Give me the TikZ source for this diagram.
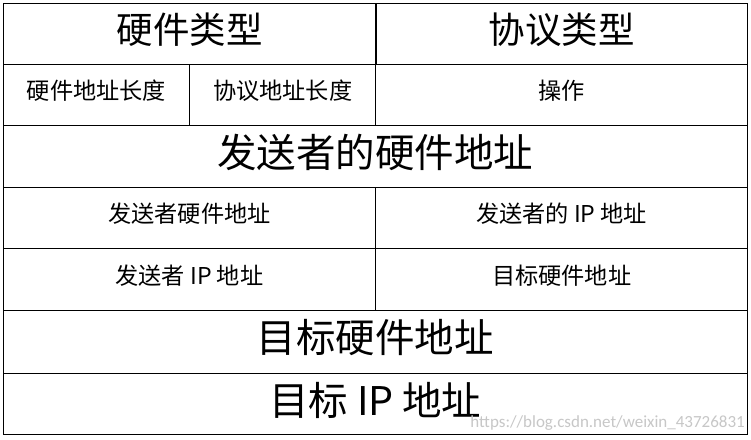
\documentclass[tikz,border=0pt]{standalone}
\usepackage{fontspec}
\setmainfont{Noto Sans CJK SC}
\newfontfamily\latinfont{Carlito}
\tikzset{
  cell/.style={draw=black, line width=1.2pt, anchor=north west, inner sep=0pt},
  txt/.style={inner sep=0pt, anchor=center},
  small/.style={txt, font=\fontsize{23.2}{23.2}\selectfont},
  mid/.style={txt, font=\fontsize{36.5}{36.5}\selectfont},
  big/.style={txt, font=\fontsize{39.5}{39.5}\selectfont},
  wm/.style={font=\latinfont\fontsize{17}{17}\selectfont, text=black!22, anchor=south east, inner sep=0pt}
}
\begin{document}
\begin{tikzpicture}[x=1pt,y=-1pt]
\useasboundingbox[fill=white] (0,0) rectangle (751,439);
% row 1
\node[cell, minimum width=373pt, minimum height=61pt] (ht) at (2.7,2.7) {};
\node[cell, minimum width=372pt, minimum height=61pt] (pt) at (375,2.7) {};
% row 2
\node[cell, minimum width=186.3pt, minimum height=61pt] (hal) at (2.7,63.7) {};
\node[cell, minimum width=186pt, minimum height=61pt] (pal) at (189,63.7) {};
\node[cell, minimum width=372pt, minimum height=61pt] (op) at (375,63.7) {};
% row 3
\node[cell, minimum width=744pt, minimum height=62pt] (sha) at (2.7,124.7) {};
% row 4
\node[cell, minimum width=372.3pt, minimum height=61pt] (sha2) at (2.7,186.7) {};
\node[cell, minimum width=372pt, minimum height=61pt] (spa) at (375,186.7) {};
% row 5
\node[cell, minimum width=372.3pt, minimum height=62pt] (spa2) at (2.7,247.7) {};
\node[cell, minimum width=372pt, minimum height=62pt] (tha) at (375,247.7) {};
% row 6
\node[cell, minimum width=744pt, minimum height=63pt] (tha2) at (2.7,309.7) {};
% row 7
\node[cell, minimum width=744pt, minimum height=61.5pt] (tpa) at (2.7,372.7) {};
% texts
\node[mid] (ht-t) at ([yshift=4pt]ht.center) {硬件类型};
\node[mid] (pt-t) at ([yshift=4pt]pt.center) {协议类型};
\node[small] (hal-t) at ([yshift=4pt]hal.center) {硬件地址长度};
\node[small] (pal-t) at ([yshift=4pt]pal.center) {协议地址长度};
\node[small] (op-t) at ([yshift=4pt]op.center) {操作};
\node[big] (sha-t) at ([yshift=4pt]sha.center) {发送者的硬件地址};
\node[small] (sha2-t) at ([yshift=4pt]sha2.center) {发送者硬件地址};
\node[small] (spa-t) at ([yshift=4pt]spa.center) {发送者的 IP 地址};
\node[small] (spa2-t) at ([yshift=4pt]spa2.center) {发送者 IP 地址};
\node[small] (tha-t) at ([yshift=4pt]tha.center) {目标硬件地址};
\node[big] (tha2-t) at ([yshift=4pt]tha2.center) {目标硬件地址};
\node[big] (tpa-t) at ([yshift=4pt]tpa.center) {目标 IP 地址};
% watermark
\node[wm] (mark) at (745,431) {https://blog.csdn.net/weixin\_43726831};
\end{tikzpicture}
\end{document}
